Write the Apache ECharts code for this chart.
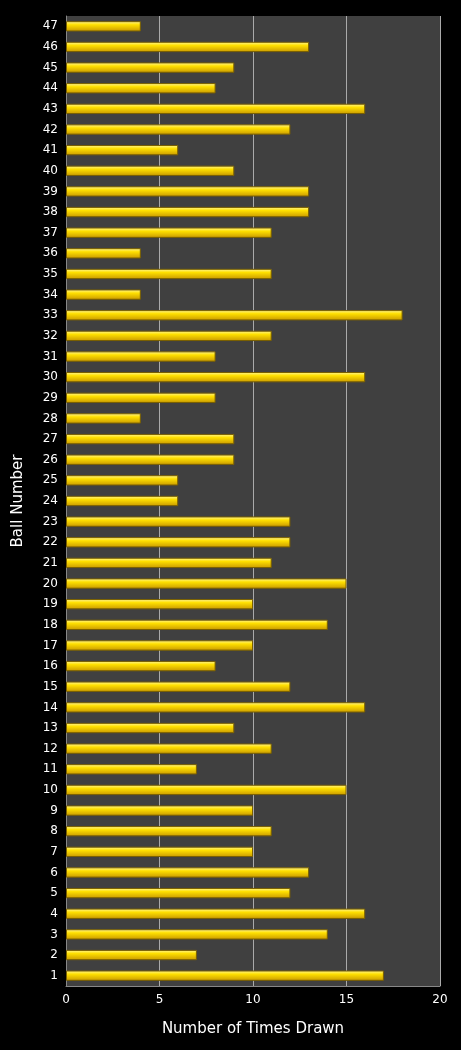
<!DOCTYPE html>
<html><head><meta charset="utf-8">
<script src="https://cdn.jsdelivr.net/npm/echarts@6/dist/echarts.min.js"></script>
<style>html,body{margin:0;background:#000}#c{width:461px;height:1050px}</style>
</head><body><div id="c"></div>
<script>
const categories = Array.from({length:47},(_, i)=>String(i+1));
const timesDrawn = [17,7,14,16,12,13,10,11,10,15,7,11,9,16,12,8,10,14,10,15,11,12,12,6,6,9,9,4,8,16,8,11,18,4,11,4,11,13,13,9,6,12,16,8,9,13,4];
const xTicks = [0,5,10,15,20];
const chart = echarts.init(document.getElementById('c'));
chart.setOption({
  backgroundColor:'#000',
  animation:false,
  grid:{left:66,right:21,top:16,bottom:64,show:true,backgroundColor:'#404040',borderWidth:0},
  xAxis:{type:'value',min:xTicks[0],max:xTicks[xTicks.length-1],interval:5,
    name:'Number of Times Drawn',nameLocation:'middle',nameGap:36,
    nameTextStyle:{color:'#fff',fontSize:15,fontFamily:'DejaVu Sans'},
    axisLabel:{color:'#fff',fontSize:12,fontFamily:'DejaVu Sans'},
    axisLine:{show:true,lineStyle:{color:'#888'}},axisTick:{show:false},
    splitLine:{lineStyle:{color:'#aaa',width:1}}},
  yAxis:{type:'category',data:categories,
    name:'Ball Number',nameLocation:'middle',nameGap:40,
    nameTextStyle:{color:'#fff',fontSize:15,fontFamily:'DejaVu Sans'},
    axisLabel:{color:'#fff',fontSize:12,fontFamily:'DejaVu Sans',interval:0},
    axisLine:{show:true,lineStyle:{color:'#888'}},axisTick:{show:false}},
  series:[{type:'bar',data:timesDrawn,barWidth:'50%',
    itemStyle:{borderColor:'#7a6000',borderWidth:1,
      color:new echarts.graphic.LinearGradient(0,0,0,1,[
        {offset:0,color:'#fff7a0'},{offset:0.35,color:'#ffe000'},{offset:1,color:'#c89800'}])}}]
});
</script></body></html>
